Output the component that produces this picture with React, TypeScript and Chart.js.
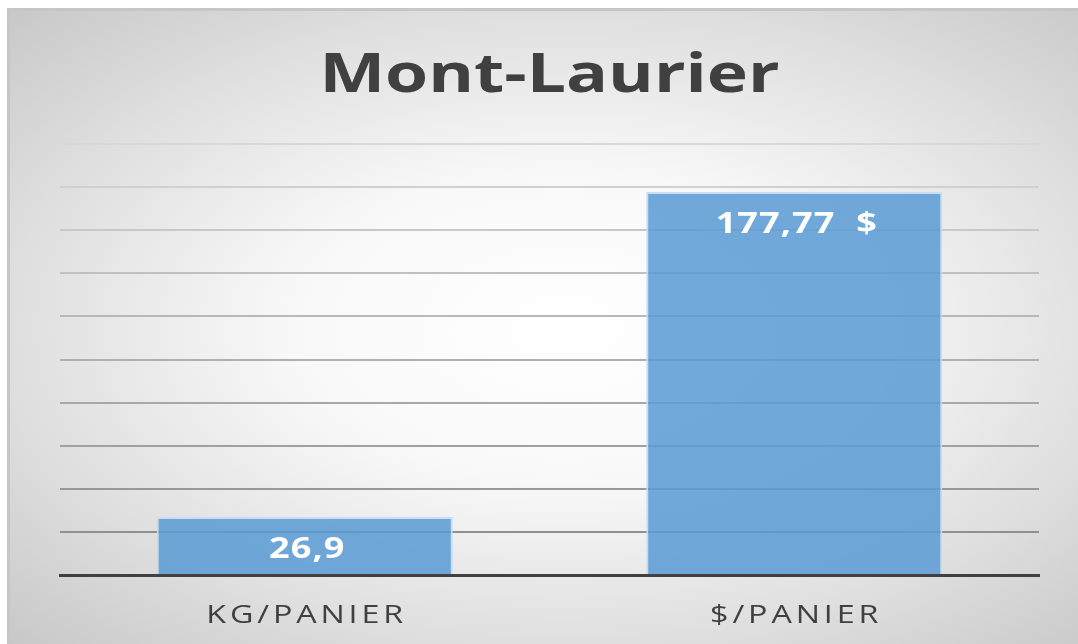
import { useEffect, useRef } from "react";
import { Chart, registerables } from "chart.js";

Chart.register(...registerables);

const TITLE = "Mont-Laurier";
const categories = ["KG/PANIER", "$/PANIER"];
const values = [26.9, 177.77];
const valueLabels = ["26,9", "177,77  $"];
const yMin = 0;
const yMax = 200;
const yStep = 20;

const STRETCH = 1.29;

function drawStretched(
  ctx: any,
  text: string,
  cx: number,
  baseline: number,
  font: string,
  color: string,
  spacing: number
) {
  ctx.save();
  ctx.translate(cx, baseline);
  ctx.scale(STRETCH, 1);
  ctx.font = font;
  ctx.letterSpacing = `${spacing}px`;
  ctx.fillStyle = color;
  ctx.textAlign = "center";
  ctx.textBaseline = "alphabetic";
  ctx.fillText(text, spacing / 2, 0);
  ctx.restore();
}

const textPlugin = {
  id: "customTexts",
  afterDraw(chart: any) {
    const ctx = chart.ctx;
    const area = chart.chartArea;
    const xScale = chart.scales.x;
    drawStretched(ctx, TITLE, (area.left + area.right) / 2, 81, 'bold 54px "Open Sans"', "#404040", 0);
    categories.forEach((c, i) => {
      drawStretched(ctx, c, xScale.getPixelForValue(i), area.bottom + 48, '25px "Open Sans"', "#404040", 3);
    });
    const meta = chart.getDatasetMeta(0);
    meta.data.forEach((bar: any, i: number) => {
      drawStretched(ctx, valueLabels[i], bar.x + 2, bar.y + 41, 'bold 28px "Open Sans"', "#ffffff", 0.8);
    });
  },
};

export default function App() {
  const ref = useRef<HTMLCanvasElement | null>(null);
  useEffect(() => {
    if (!ref.current) return;
    const chart = new Chart(ref.current, {
      type: "bar",
      data: {
        labels: categories,
        datasets: [
          {
            data: values,
            backgroundColor: "rgba(91,155,213,0.86)",
            borderColor: "rgba(196,220,242,0.9)",
            borderWidth: 2,
            barPercentage: 0.605,
            categoryPercentage: 1.0,
          },
        ],
      },
      options: {
        animation: false,
        responsive: false,
        devicePixelRatio: 1,
        layout: { padding: { left: 50, right: 39, top: 133, bottom: 69 } },
        plugins: {
          legend: { display: false },
          title: { display: false },
          tooltip: { enabled: false },
        },
        scales: {
          x: {
            grid: { display: false, drawTicks: false },
            ticks: { display: false },
            border: { display: true, color: "#404040", width: 3 },
          },
          y: {
            min: yMin,
            max: yMax,
            ticks: { display: false, stepSize: yStep },
            border: { display: false },
            grid: {
              drawTicks: false,
              lineWidth: 2,
              color: (c: any) => {
                const v = c.tick ? c.tick.value : 0;
                if (v === 0) return "#404040";
                const g = Math.round(136 + 0.4 * v);
                return `rgb(${g},${g},${g})`;
              },
            },
          },
        },
      },
      plugins: [textPlugin],
    });
    return () => chart.destroy();
  }, []);

  return (
    <div
      style={{
        position: "fixed",
        left: 7,
        top: 8,
        width: 1071,
        height: 636,
        boxSizing: "border-box",
        borderLeft: "3px solid #c6c6c6",
        borderTop: "3px solid #c6c6c6",
        background:
          "radial-gradient(ellipse at 52% 50%, #ffffff 0%, #f8f8f8 35%, #e0e0e0 69%, #c8c8c8 100%)",
        overflow: "hidden",
      }}
    >
      <canvas ref={ref} width={1068} height={633} style={{ display: "block", width: 1068, height: 633 }} />
    </div>
  );
}
